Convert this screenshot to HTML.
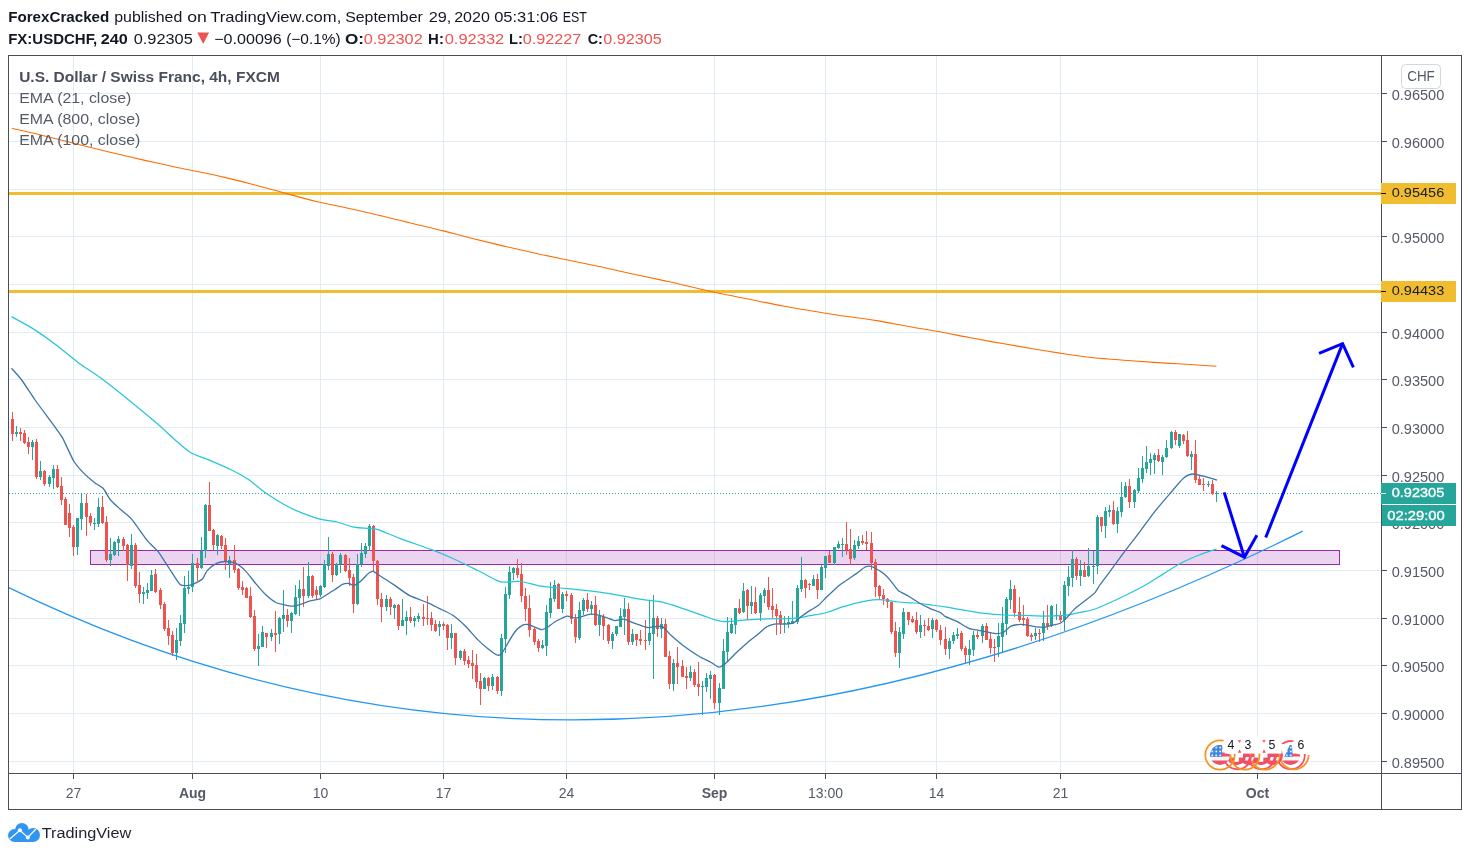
<!DOCTYPE html>
<html><head><meta charset="utf-8"><title>USDCHF</title>
<style>
html,body{margin:0;padding:0;background:#fff;}
body{width:1470px;height:856px;position:relative;overflow:hidden;font-family:"Liberation Sans",sans-serif;}
</style></head><body>
<svg width="1470" height="856" viewBox="0 0 1470 856" style="position:absolute;left:0;top:0;will-change:transform">
<defs><clipPath id="pane"><rect x="9" y="56" width="1372" height="717"/></clipPath></defs>
<path d="M73.5 56V773M192.5 56V773M320.5 56V773M443.5 56V773M566.5 56V773M714.5 56V773M825.5 56V773M936.5 56V773M1060.5 56V773M1257.5 56V773M9 93.5H1381M9 141.5H1381M9 189.5H1381M9 236.5H1381M9 284.5H1381M9 332.5H1381M9 379.5H1381M9 427.5H1381M9 475.5H1381M9 522.5H1381M9 570.5H1381M9 618.5H1381M9 665.5H1381M9 713.5H1381M9 761.5H1381" stroke="#e1ecf2" stroke-width="1" fill="none" shape-rendering="crispEdges"/>
<g clip-path="url(#pane)">
<rect x="9" y="192" width="1372" height="3" fill="#f0bd31" shape-rendering="crispEdges"/>
<rect x="9" y="290" width="1372" height="3" fill="#f0bd31" shape-rendering="crispEdges"/>
<rect x="90.5" y="550.5" width="1249" height="14" fill="#9c27b0" fill-opacity="0.2" stroke="#9c27b0" stroke-width="1"/>
<path d="M9 493.5H1381" stroke="#26a69a" stroke-width="1" stroke-dasharray="1 2" shape-rendering="crispEdges"/>
<path d="M16.5 426V437M32.5 440V460M40.5 461V480M49.5 475V487M53.5 465V489M77.5 518V555M81.5 493V530M94.5 518V530M98.5 498V527M110.5 538V566M114.5 541V556M118.5 536V556M131.5 534V569M143.5 587V604M147.5 583V599M151.5 570V591M176.5 628V660M180.5 615V646M184.5 576V633M188.5 571V594M192.5 554V592M201.5 537V569M205.5 504V558M217.5 534V555M229.5 556V578M258.5 634V666M262.5 626V647M271.5 629V641M279.5 617V644M283.5 590V632M291.5 612V633M295.5 585V615M299.5 580V616M308.5 562V598M320.5 585V597M324.5 560V588M328.5 537V570M336.5 563V576M340.5 553V573M357.5 554V605M361.5 543V567M365.5 543V558M369.5 524V551M386.5 595V611M394.5 604V619M402.5 599V626M406.5 611V635M414.5 616V627M418.5 613V622M439.5 621V636M451.5 624V649M460.5 650V660M484.5 677V689M492.5 674V690M501.5 634V696M505.5 587V653M509.5 566V599M513.5 567V580M542.5 640V649M546.5 605V656M550.5 582V618M554.5 580V602M562.5 592V613M579.5 602V640M583.5 598V615M591.5 601V615M599.5 610V636M612.5 632V649M616.5 626V636M620.5 608V627M624.5 598V635M632.5 629V645M649.5 601V645M653.5 595V679M661.5 618V638M673.5 659V691M690.5 666V681M702.5 681V715M706.5 673V692M710.5 671V699M719.5 683V715M723.5 639V689M727.5 617V662M731.5 618V634M735.5 608V634M743.5 583V613M751.5 586V614M760.5 593V621M764.5 588V603M784.5 616V633M788.5 616V628M792.5 601V624M797.5 585V624M801.5 557V592M813.5 575V586M821.5 565V590M825.5 556V578M834.5 547V565M838.5 541V549M842.5 538V557M854.5 540V560M858.5 536V549M899.5 627V668M903.5 608V639M920.5 615V638M932.5 618V638M949.5 638V659M953.5 632V644M957.5 628V639M969.5 640V665M973.5 631V656M982.5 624V643M998.5 623V657M1002.5 607V652M1006.5 597V635M1010.5 580V609M1035.5 628V640M1043.5 611V641M1051.5 605V627M1056.5 604V620M1064.5 581V631M1068.5 566V596M1072.5 550V587M1080.5 560V586M1088.5 548V577M1093.5 551V584M1097.5 515V574M1105.5 507V538M1109.5 505V517M1117.5 507V533M1121.5 482V517M1125.5 482V498M1134.5 489V508M1138.5 468V493M1142.5 456V483M1146.5 446V473M1150.5 453V475M1154.5 453V474M1162.5 455V475M1166.5 440V458M1171.5 431V449M1179.5 434V448M1191.5 451V470M1208.5 481V487M1216.5 491V502" stroke="#26a69a" stroke-width="1" fill="none" shape-rendering="crispEdges"/>
<path d="M12.5 412V441M20.5 428V441M24.5 430V444M28.5 437V454M36.5 439V479M44.5 470V486M57.5 465V488M61.5 477V505M65.5 497V525M69.5 504V537M73.5 525V556M86.5 494V536M90.5 513V526M102.5 496V524M106.5 516V562M123.5 537V551M127.5 544V581M135.5 543V588M139.5 572V603M155.5 569V593M160.5 588V609M164.5 602V631M168.5 620V645M172.5 631V656M197.5 558V581M209.5 482V531M213.5 529V550M221.5 535V549M225.5 538V570M234.5 545V573M238.5 568V590M242.5 581V595M246.5 587V598M250.5 587V618M254.5 610V651M266.5 633V648M275.5 611V652M287.5 609V627M303.5 567V607M312.5 575V598M316.5 586V600M332.5 552V582M345.5 554V572M349.5 558V586M353.5 574V613M373.5 525V571M377.5 560V605M381.5 593V622M390.5 597V615M398.5 604V630M410.5 607V623M423.5 604V626M427.5 596V625M431.5 612V631M435.5 620V632M443.5 622V630M447.5 624V650M455.5 633V665M464.5 649V665M468.5 656V668M472.5 650V679M476.5 654V688M480.5 673V705M488.5 677V691M497.5 676V694M517.5 559V578M521.5 563V602M525.5 588V621M529.5 595V637M534.5 627V645M538.5 639V652M558.5 583V609M566.5 591V601M571.5 593V624M575.5 614V643M587.5 593V612M595.5 596V626M603.5 614V640M608.5 624V644M628.5 603V645M636.5 634V646M640.5 630V645M645.5 620V650M657.5 616V637M665.5 619V657M669.5 651V689M677.5 647V684M682.5 660V677M686.5 667V689M694.5 669V687M698.5 662V696M714.5 674V709M739.5 599V614M747.5 589V620M755.5 587V614M768.5 577V610M772.5 588V618M776.5 604V635M780.5 611V634M805.5 579V598M809.5 583V590M817.5 574V599M829.5 551V563M846.5 522V555M850.5 529V565M862.5 535V545M866.5 531V550M871.5 532V570M875.5 559V597M879.5 585V599M883.5 589V605M887.5 598V608M891.5 602V634M895.5 622V657M908.5 612V625M912.5 616V623M916.5 612V634M924.5 620V636M928.5 618V631M936.5 619V632M940.5 625V645M945.5 627V655M961.5 631V651M965.5 646V663M977.5 631V639M986.5 623V640M990.5 633V654M994.5 639V662M1014.5 585V617M1019.5 597V622M1023.5 605V626M1027.5 617V637M1031.5 633V641M1039.5 629V642M1047.5 605V630M1060.5 611V622M1076.5 557V580M1084.5 562V577M1101.5 517V532M1113.5 501V525M1129.5 479V508M1158.5 449V462M1175.5 430V445M1183.5 434V444M1187.5 431V457M1195.5 440V483M1199.5 476V485M1203.5 478V491M1212.5 480V495" stroke="#ef5350" stroke-width="1" fill="none" shape-rendering="crispEdges"/>
<path d="M15 432h3V434h-3zM31 442h3V447h-3zM39 471h3V477h-3zM48 477h3V484h-3zM52 469h3V478h-3zM76 518h3V547h-3zM80 503h3V519h-3zM93 523h3V524h-3zM97 507h3V524h-3zM109 554h3V560h-3zM113 542h3V555h-3zM117 539h3V543h-3zM130 545h3V566h-3zM142 592h3V594h-3zM146 590h3V593h-3zM150 575h3V591h-3zM175 640h3V653h-3zM179 623h3V641h-3zM183 588h3V624h-3zM187 587h3V589h-3zM191 563h3V587h-3zM200 551h3V568h-3zM204 505h3V551h-3zM216 535h3V546h-3zM228 560h3V564h-3zM257 646h3V649h-3zM261 632h3V647h-3zM270 633h3V637h-3zM278 618h3V634h-3zM282 615h3V619h-3zM290 613h3V621h-3zM294 597h3V614h-3zM298 589h3V598h-3zM307 576h3V596h-3zM319 586h3V595h-3zM323 564h3V587h-3zM327 554h3V566h-3zM335 564h3V575h-3zM339 555h3V564h-3zM356 564h3V604h-3zM360 553h3V564h-3zM364 546h3V554h-3zM368 526h3V546h-3zM385 599h3V607h-3zM393 605h3V608h-3zM401 620h3V626h-3zM405 617h3V621h-3zM413 618h3V621h-3zM417 616h3V619h-3zM438 624h3V627h-3zM450 633h3V638h-3zM459 651h3V658h-3zM483 678h3V689h-3zM491 677h3V686h-3zM500 638h3V691h-3zM504 594h3V639h-3zM508 572h3V595h-3zM512 568h3V573h-3zM541 645h3V648h-3zM545 612h3V646h-3zM549 598h3V613h-3zM553 585h3V599h-3zM561 594h3V609h-3zM578 610h3V638h-3zM582 600h3V611h-3zM590 605h3V609h-3zM598 616h3V625h-3zM611 634h3V641h-3zM615 626h3V634h-3zM619 616h3V627h-3zM623 609h3V617h-3zM631 634h3V642h-3zM648 633h3V641h-3zM652 618h3V634h-3zM660 624h3V629h-3zM672 663h3V684h-3zM689 672h3V678h-3zM701 686h3V687h-3zM705 678h3V687h-3zM709 675h3V679h-3zM718 688h3V703h-3zM722 651h3V689h-3zM726 632h3V652h-3zM730 624h3V633h-3zM734 608h3V625h-3zM742 591h3V612h-3zM750 602h3V606h-3zM759 595h3V613h-3zM763 590h3V596h-3zM783 623h3V624h-3zM787 622h3V624h-3zM791 621h3V623h-3zM796 588h3V622h-3zM800 580h3V589h-3zM812 579h3V586h-3zM820 567h3V590h-3zM824 556h3V568h-3zM833 547h3V563h-3zM837 544h3V548h-3zM841 544h3V545h-3zM853 545h3V558h-3zM857 541h3V546h-3zM898 632h3V653h-3zM902 612h3V634h-3zM919 625h3V632h-3zM931 620h3V629h-3zM948 641h3V649h-3zM952 635h3V641h-3zM956 634h3V636h-3zM968 649h3V655h-3zM972 635h3V650h-3zM981 626h3V636h-3zM997 636h3V647h-3zM1001 623h3V637h-3zM1005 599h3V624h-3zM1009 589h3V600h-3zM1034 633h3V636h-3zM1042 623h3V633h-3zM1050 606h3V626h-3zM1055 615h3V616h-3zM1063 585h3V620h-3zM1067 577h3V586h-3zM1071 559h3V578h-3zM1079 570h3V576h-3zM1087 566h3V576h-3zM1092 566h3V567h-3zM1096 517h3V566h-3zM1104 511h3V526h-3zM1108 510h3V512h-3zM1116 511h3V524h-3zM1120 497h3V512h-3zM1124 486h3V497h-3zM1133 490h3V502h-3zM1137 478h3V491h-3zM1141 468h3V479h-3zM1145 462h3V469h-3zM1149 459h3V463h-3zM1153 455h3V460h-3zM1161 457h3V462h-3zM1165 448h3V457h-3zM1170 432h3V448h-3zM1178 434h3V446h-3zM1190 454h3V457h-3zM1207 484h3V485h-3zM1215 493h3V494h-3z" fill="#26a69a" shape-rendering="crispEdges"/>
<path d="M11 419h3V434h-3zM19 432h3V434h-3zM23 433h3V443h-3zM27 442h3V447h-3zM35 442h3V477h-3zM43 471h3V484h-3zM56 469h3V487h-3zM60 486h3V500h-3zM64 499h3V525h-3zM68 513h3V528h-3zM72 527h3V547h-3zM85 503h3V517h-3zM89 516h3V523h-3zM101 507h3V523h-3zM105 522h3V560h-3zM122 539h3V546h-3zM126 545h3V565h-3zM134 545h3V586h-3zM138 585h3V594h-3zM154 574h3V592h-3zM159 590h3V605h-3zM163 604h3V629h-3zM167 628h3V636h-3zM171 635h3V653h-3zM196 563h3V568h-3zM208 505h3V531h-3zM212 530h3V545h-3zM220 536h3V546h-3zM224 545h3V562h-3zM233 560h3V570h-3zM237 569h3V588h-3zM241 587h3V590h-3zM245 588h3V598h-3zM249 596h3V617h-3zM253 616h3V649h-3zM265 633h3V637h-3zM274 633h3V635h-3zM286 615h3V621h-3zM302 589h3V596h-3zM311 576h3V596h-3zM315 590h3V595h-3zM331 554h3V575h-3zM344 555h3V571h-3zM348 570h3V578h-3zM352 577h3V604h-3zM372 526h3V561h-3zM376 561h3V599h-3zM380 599h3V607h-3zM389 599h3V607h-3zM397 605h3V626h-3zM409 617h3V621h-3zM422 617h3V619h-3zM426 618h3V619h-3zM430 618h3V625h-3zM434 624h3V631h-3zM442 624h3V626h-3zM446 625h3V638h-3zM454 633h3V658h-3zM463 651h3V661h-3zM467 660h3V664h-3zM471 663h3V666h-3zM475 665h3V682h-3zM479 681h3V689h-3zM487 678h3V686h-3zM496 677h3V691h-3zM516 568h3V575h-3zM520 574h3V596h-3zM524 596h3V609h-3zM528 608h3V630h-3zM533 629h3V642h-3zM537 641h3V648h-3zM557 584h3V609h-3zM565 594h3V596h-3zM570 595h3V619h-3zM574 619h3V637h-3zM586 600h3V609h-3zM594 605h3V625h-3zM602 617h3V626h-3zM607 625h3V641h-3zM627 609h3V642h-3zM635 634h3V640h-3zM639 639h3V641h-3zM644 640h3V641h-3zM656 618h3V629h-3zM664 624h3V657h-3zM668 656h3V684h-3zM676 663h3V667h-3zM681 666h3V677h-3zM685 676h3V678h-3zM693 672h3V685h-3zM697 684h3V687h-3zM713 675h3V703h-3zM738 608h3V613h-3zM746 590h3V606h-3zM754 602h3V613h-3zM767 590h3V607h-3zM771 606h3V610h-3zM775 609h3V616h-3zM779 615h3V624h-3zM804 580h3V588h-3zM808 584h3V585h-3zM816 579h3V590h-3zM828 555h3V563h-3zM845 544h3V550h-3zM849 549h3V559h-3zM861 541h3V543h-3zM865 542h3V544h-3zM870 543h3V563h-3zM874 562h3V587h-3zM878 586h3V596h-3zM882 595h3V599h-3zM886 599h3V602h-3zM890 602h3V632h-3zM894 631h3V653h-3zM907 612h3V620h-3zM911 619h3V622h-3zM915 620h3V632h-3zM923 625h3V626h-3zM927 626h3V630h-3zM935 620h3V630h-3zM939 630h3V640h-3zM944 639h3V649h-3zM960 633h3V649h-3zM964 648h3V655h-3zM976 635h3V637h-3zM985 626h3V640h-3zM989 639h3V648h-3zM993 647h3V648h-3zM1013 589h3V613h-3zM1018 612h3V620h-3zM1022 618h3V620h-3zM1026 619h3V636h-3zM1030 635h3V637h-3zM1038 633h3V634h-3zM1046 623h3V626h-3zM1059 615h3V620h-3zM1075 559h3V576h-3zM1083 570h3V577h-3zM1100 517h3V526h-3zM1112 510h3V524h-3zM1128 486h3V502h-3zM1157 455h3V461h-3zM1174 432h3V440h-3zM1182 435h3V441h-3zM1186 440h3V456h-3zM1194 454h3V480h-3zM1198 479h3V485h-3zM1202 484h3V485h-3zM1211 484h3V494h-3z" fill="#ef5350" shape-rendering="crispEdges"/>
<path d="M11.9 128.2C16.5 129.3 29.4 132.2 39.7 134.7C50.0 137.2 62.1 140.3 73.7 143.2C85.3 146.1 97.4 149.2 109.1 152.0C120.8 154.8 132.2 157.5 143.8 160.1C155.4 162.7 170.4 166.0 178.5 167.7C186.6 169.4 184.6 168.9 192.3 170.5C200.0 172.1 213.5 174.8 224.7 177.4C235.9 180.0 249.7 183.7 259.4 186.2C269.0 188.7 273.0 189.9 282.6 192.5C292.2 195.1 307.6 199.4 317.2 201.7C326.8 204.0 330.4 204.4 340.0 206.5C349.6 208.6 363.1 211.5 374.7 214.2C386.3 216.9 397.9 220.0 409.4 222.8C420.8 225.6 433.4 228.4 443.4 230.9C453.4 233.4 459.8 235.4 469.5 237.8C479.2 240.2 490.7 243.0 501.9 245.6C513.1 248.2 525.9 251.1 536.6 253.5C547.4 255.9 556.8 257.8 566.4 259.8C576.0 261.8 583.9 263.3 594.4 265.5C604.9 267.7 617.5 270.7 629.1 273.2C640.7 275.7 655.3 278.8 663.8 280.6C672.3 282.4 671.5 282.2 680.0 284.2C688.5 286.1 702.9 289.8 714.5 292.3C726.1 294.8 737.8 297.0 749.4 299.3C761.0 301.6 771.4 303.9 784.1 306.2C796.8 308.5 813.9 311.3 825.5 313.2C837.1 315.1 845.0 316.1 853.5 317.3C862.0 318.5 867.0 319.0 876.6 320.6C886.2 322.2 901.3 325.2 911.3 327.0C921.3 328.8 926.8 329.4 936.5 331.2C946.2 332.9 958.0 335.4 969.3 337.5C980.5 339.6 992.4 341.8 1004.0 343.8C1015.6 345.8 1029.4 348.1 1038.8 349.7C1048.2 351.3 1052.8 352.0 1060.5 353.2C1068.2 354.4 1077.0 355.7 1085.0 356.7C1093.0 357.7 1100.5 358.3 1108.2 359.0C1115.9 359.7 1123.6 360.2 1131.3 360.8C1139.0 361.4 1146.7 361.9 1154.4 362.4C1162.1 362.9 1169.9 363.3 1177.6 363.8C1185.3 364.3 1194.2 364.8 1200.7 365.2C1207.2 365.6 1213.8 366.0 1216.4 366.2" stroke="#ff6d00" stroke-width="1.1" fill="none"/>
<path d="M11.5 316.6C15.1 318.7 26.0 324.3 33.3 328.9C40.6 333.5 48.1 338.8 55.5 344.4C62.9 349.9 69.9 356.4 77.7 362.2C85.5 368.0 93.6 372.7 102.1 379.0C110.6 385.3 119.8 392.7 128.7 399.9C137.6 407.1 147.2 415.1 155.4 422.1C163.6 429.1 171.5 436.9 177.6 442.1C183.7 447.3 186.6 450.2 191.8 453.2C197.0 456.1 202.0 457.0 208.7 459.8C215.3 462.6 225.0 466.7 231.7 470.0C238.4 473.3 243.2 475.9 248.9 479.8C254.6 483.7 259.6 488.8 266.1 493.3C272.6 497.8 281.6 503.3 288.1 506.8C294.6 510.3 300.0 512.2 305.3 514.2C310.6 516.2 314.7 517.8 320.0 519.1C325.3 520.4 331.6 520.7 337.2 522.0C342.8 523.3 348.3 526.0 353.7 527.1C359.1 528.2 365.6 528.0 369.6 528.4C373.7 528.8 372.9 528.0 378.0 529.7C383.1 531.4 391.4 535.2 400.4 538.6C409.4 542.0 423.2 546.5 432.2 549.9C441.2 553.3 447.1 555.8 454.6 559.2C462.1 562.6 470.2 566.7 477.4 570.3C484.6 573.9 493.2 578.9 497.9 580.9C502.6 582.9 501.6 582.0 505.4 582.1C509.1 582.2 514.5 580.8 520.4 581.5C526.3 582.2 534.4 585.1 540.9 586.2C547.4 587.3 553.1 587.4 559.6 588.0C566.1 588.6 573.2 589.1 579.9 589.8C586.6 590.5 592.4 591.2 599.7 592.2C607.0 593.2 616.3 594.9 623.6 596.1C630.9 597.4 636.8 598.7 643.4 599.7C650.0 600.7 656.7 600.8 663.3 602.3C669.9 603.8 676.5 606.5 683.1 608.7C689.7 610.9 697.6 613.7 703.0 615.6C708.4 617.5 711.7 618.9 715.5 619.9C719.3 620.9 720.7 621.6 726.0 621.6C731.3 621.6 740.1 620.4 747.1 619.9C754.1 619.4 760.4 619.0 768.1 618.8C775.8 618.5 786.3 618.9 793.3 618.4C800.3 617.9 804.5 616.7 810.1 615.7C815.7 614.7 821.7 613.9 826.9 612.5C832.1 611.1 836.2 608.9 841.5 607.2C846.8 605.6 853.1 603.8 858.4 602.6C863.7 601.4 868.9 600.4 873.1 599.9C877.3 599.4 879.4 599.5 883.6 599.9C887.8 600.2 893.0 601.5 898.3 602.0C903.5 602.5 909.5 602.5 915.1 603.0C920.7 603.5 926.7 604.4 932.0 605.1C937.3 605.8 941.2 606.3 946.7 607.2C952.2 608.1 958.6 609.4 964.9 610.4C971.2 611.4 978.1 612.6 984.7 613.4C991.3 614.2 998.0 614.7 1004.6 615.0C1011.2 615.3 1017.8 615.2 1024.4 615.4C1031.0 615.6 1037.7 616.0 1044.3 616.0C1050.9 616.0 1058.2 616.0 1064.2 615.4C1070.2 614.8 1075.0 613.5 1080.1 612.4C1085.2 611.3 1088.3 611.4 1095.0 609.0C1101.7 606.6 1111.6 602.0 1120.0 598.0C1128.4 594.0 1138.3 589.0 1145.5 585.0C1152.7 581.0 1157.3 577.6 1163.3 573.9C1169.2 570.2 1175.2 566.1 1181.2 563.0C1187.2 559.9 1193.2 557.3 1199.1 555.0C1205.0 552.7 1213.7 550.0 1216.6 549.0" stroke="#26c6da" stroke-width="1.25" fill="none"/>
<path d="M11.5 368.3C12.7 369.6 19.4 377.0 22.0 380.5C24.6 384.0 31.6 395.0 35.1 400.0C38.6 405.0 51.1 421.7 54.1 425.9C57.1 430.1 60.3 434.0 62.5 437.9C64.7 441.8 71.4 457.1 73.7 461.0C76.0 464.9 81.2 470.5 83.5 472.9C85.8 475.3 92.5 481.0 94.7 482.7C96.9 484.4 101.4 486.5 103.1 488.3C104.8 490.1 108.2 497.2 110.1 499.5C112.0 501.8 117.7 506.9 120.0 509.0C122.3 511.1 128.4 515.4 131.4 518.9C134.4 522.4 144.4 537.1 147.3 540.7C150.2 544.3 155.8 548.5 158.2 551.6C160.6 554.7 166.8 564.9 169.2 568.5C171.6 572.1 177.9 582.5 180.1 584.4C182.3 586.3 187.1 585.6 189.0 585.4C190.9 585.2 195.5 583.2 197.0 582.4C198.5 581.6 201.8 579.8 202.9 578.5C204.0 577.2 205.6 572.3 207.2 570.6C208.8 568.9 215.0 564.2 217.0 563.2C219.0 562.2 223.6 561.5 225.6 561.5C227.6 561.5 233.2 562.2 235.4 563.2C237.6 564.2 242.9 568.3 245.2 570.6C247.5 572.9 253.9 581.4 256.2 584.1C258.5 586.8 263.9 593.1 266.1 595.1C268.3 597.1 273.2 601.3 275.9 602.5C278.6 603.7 287.9 606.0 290.6 606.2C293.3 606.4 298.2 605.0 300.4 604.4C302.6 603.8 308.0 601.4 310.2 600.8C312.4 600.2 317.8 599.7 320.0 598.8C322.2 597.9 328.2 593.7 329.8 592.7C331.4 591.7 333.6 590.4 335.0 589.5C336.4 588.6 341.0 585.1 342.5 584.4C344.0 583.7 347.8 583.4 349.0 583.5C350.2 583.6 352.4 585.7 353.7 585.4C355.0 585.1 359.6 582.0 361.2 580.7C362.8 579.4 367.3 574.2 368.6 573.2C369.9 572.2 372.1 571.1 373.3 571.4C374.5 571.7 377.5 574.2 379.9 575.7C382.3 577.2 391.5 583.2 394.8 585.4C398.1 587.6 406.1 593.8 409.8 595.7C413.5 597.6 425.2 601.7 428.5 603.1C431.8 604.5 437.0 607.4 439.7 608.7C442.4 610.0 449.9 613.3 452.8 615.3C455.7 617.3 463.1 623.8 465.8 626.5C468.5 629.2 474.9 636.9 477.4 639.4C479.9 641.9 486.4 647.6 488.6 649.3C490.8 651.0 495.6 654.5 497.0 655.0C498.4 655.5 500.6 654.7 501.7 653.5C502.8 652.3 505.9 646.5 507.3 644.1C508.7 641.7 513.2 634.1 514.8 632.0C516.4 629.9 520.8 626.2 522.2 625.4C523.6 624.6 526.5 624.3 527.9 624.5C529.3 624.7 533.8 626.7 535.3 627.3C536.8 627.9 540.6 629.7 541.9 629.7C543.2 629.7 546.0 628.2 547.5 627.3C549.0 626.4 553.7 622.5 555.9 621.3C558.1 620.1 564.9 616.5 567.1 616.1C569.3 615.7 573.3 618.2 575.9 618.0C578.5 617.8 587.7 614.4 590.8 614.2C593.9 614.0 601.1 615.9 603.7 616.6C606.3 617.3 612.4 620.3 614.6 620.6C616.8 620.9 621.3 618.9 623.6 619.2C625.9 619.5 632.9 622.7 635.5 623.6C638.1 624.5 645.0 627.2 647.4 627.5C649.8 627.8 655.6 626.5 657.3 626.5C659.0 626.5 661.8 626.1 663.3 627.1C664.8 628.1 669.0 633.5 671.2 635.5C673.4 637.5 680.0 643.1 683.1 645.4C686.2 647.7 695.9 654.4 699.0 656.3C702.1 658.2 708.7 661.1 710.9 662.3C713.1 663.5 717.2 667.1 718.9 667.2C720.6 667.3 724.1 664.6 726.0 663.0C727.9 661.4 734.2 654.7 736.5 652.5C738.8 650.3 744.8 645.0 747.1 643.0C749.4 641.0 755.5 636.3 757.6 634.6C759.7 632.9 764.2 628.5 766.0 627.3C767.8 626.1 772.3 624.5 774.4 624.1C776.5 623.7 782.8 624.2 784.9 624.1C787.0 624.0 791.7 623.8 793.3 623.1C794.9 622.4 797.8 619.2 799.6 617.8C801.4 616.4 808.0 611.8 810.1 610.4C812.2 609.0 816.7 606.7 818.5 605.2C820.3 603.7 824.6 599.0 826.9 596.8C829.2 594.6 837.1 587.1 839.4 585.2C841.7 583.3 845.9 580.8 847.8 579.5C849.7 578.2 854.4 574.9 856.3 573.6C858.2 572.3 863.2 568.1 864.7 567.3C866.2 566.5 868.7 566.1 869.9 566.2C871.1 566.3 873.7 567.5 875.2 568.3C876.7 569.1 882.0 572.3 883.6 573.6C885.2 574.9 888.3 578.1 889.9 579.9C891.5 581.7 896.2 588.6 898.3 590.4C900.4 592.2 906.5 594.9 908.8 596.3C911.1 597.7 917.0 601.7 919.3 603.0C921.6 604.3 927.5 607.3 929.8 608.3C932.1 609.3 938.7 611.6 940.4 612.5C942.1 613.4 943.2 615.4 945.0 616.4C946.8 617.4 954.3 620.1 956.9 621.4C959.5 622.7 966.4 627.3 968.8 628.3C971.2 629.3 976.6 629.9 978.8 630.3C981.0 630.7 986.7 631.9 988.7 632.3C990.7 632.7 995.0 633.7 996.6 633.7C998.2 633.7 1002.1 633.1 1003.6 632.3C1005.1 631.5 1008.6 627.2 1010.5 626.3C1012.4 625.4 1018.5 624.4 1020.5 624.3C1022.5 624.2 1026.7 625.0 1028.4 625.3C1030.1 625.6 1034.7 626.7 1036.4 626.9C1038.1 627.1 1042.6 627.5 1044.3 627.3C1046.0 627.1 1050.5 625.7 1052.2 625.3C1053.9 624.9 1058.7 624.1 1060.2 623.3C1061.7 622.5 1064.7 619.9 1066.2 618.4C1067.7 616.9 1072.1 611.3 1074.1 609.4C1076.1 607.5 1081.7 603.3 1084.0 601.5C1086.3 599.7 1093.3 594.4 1095.0 592.6C1096.7 590.8 1098.2 587.3 1099.8 585.0C1101.4 582.7 1106.9 575.7 1109.7 571.9C1112.5 568.1 1122.3 554.5 1125.6 550.1C1128.9 545.7 1136.4 536.2 1139.5 532.2C1142.6 528.2 1150.1 517.5 1153.4 513.3C1156.7 509.1 1166.0 498.2 1169.3 494.4C1172.6 490.6 1180.7 480.8 1183.2 478.6C1185.7 476.4 1189.7 474.2 1192.1 474.0C1194.5 473.8 1202.4 475.9 1205.1 476.6C1207.8 477.3 1215.7 479.7 1217.0 480.1" stroke="#3d75a8" stroke-width="1.3" fill="none" stroke-linejoin="round"/>
<path d="M8.50 587.53Q604.47 878.07 1302.70 531.17" stroke="#2196f3" stroke-width="1.25" fill="none"/>
<g stroke="#0000ff" stroke-width="3" fill="none" stroke-linecap="butt">
<path d="M1224.2 492.4L1244.4 557.2"/><path d="M1221.5 545.7L1244.4 557.2L1256.9 535.2" stroke-linejoin="miter"/>
<path d="M1265.7 537.5L1342.6 343.6"/><path d="M1319 353.4L1342.6 343.6L1353.4 367.4" stroke-linejoin="miter"/>
</g>
</g>
<path d="M8.5 55V810M1461.5 55V810M8 55.5H1462M8 809.5H1462M1381.5 55V810M8 773.5H1462M73.5 774V779M192.5 774V779M320.5 774V779M443.5 774V779M566.5 774V779M714.5 774V779M825.5 774V779M936.5 774V779M1060.5 774V779M1257.5 774V779M1382 93.5h5M1382 141.5h5M1382 189.5h5M1382 236.5h5M1382 284.5h5M1382 332.5h5M1382 379.5h5M1382 427.5h5M1382 475.5h5M1382 522.5h5M1382 570.5h5M1382 618.5h5M1382 665.5h5M1382 713.5h5M1382 761.5h5" stroke="#4a4e5c" stroke-width="1" fill="none" shape-rendering="crispEdges"/>
<text x="1391.7" y="99.7" font-family="Liberation Sans, sans-serif" font-size="14" fill="#555a66" textLength="52.6" lengthAdjust="spacingAndGlyphs">0.96500</text>
<text x="1391.7" y="147.7" font-family="Liberation Sans, sans-serif" font-size="14" fill="#555a66" textLength="52.6" lengthAdjust="spacingAndGlyphs">0.96000</text>
<text x="1391.7" y="195.7" font-family="Liberation Sans, sans-serif" font-size="14" fill="#555a66" textLength="52.6" lengthAdjust="spacingAndGlyphs">0.95500</text>
<text x="1391.7" y="242.7" font-family="Liberation Sans, sans-serif" font-size="14" fill="#555a66" textLength="52.6" lengthAdjust="spacingAndGlyphs">0.95000</text>
<text x="1391.7" y="290.7" font-family="Liberation Sans, sans-serif" font-size="14" fill="#555a66" textLength="52.6" lengthAdjust="spacingAndGlyphs">0.94500</text>
<text x="1391.7" y="338.7" font-family="Liberation Sans, sans-serif" font-size="14" fill="#555a66" textLength="52.6" lengthAdjust="spacingAndGlyphs">0.94000</text>
<text x="1391.7" y="385.7" font-family="Liberation Sans, sans-serif" font-size="14" fill="#555a66" textLength="52.6" lengthAdjust="spacingAndGlyphs">0.93500</text>
<text x="1391.7" y="433.7" font-family="Liberation Sans, sans-serif" font-size="14" fill="#555a66" textLength="52.6" lengthAdjust="spacingAndGlyphs">0.93000</text>
<text x="1391.7" y="481.7" font-family="Liberation Sans, sans-serif" font-size="14" fill="#555a66" textLength="52.6" lengthAdjust="spacingAndGlyphs">0.92500</text>
<text x="1391.7" y="528.7" font-family="Liberation Sans, sans-serif" font-size="14" fill="#555a66" textLength="52.6" lengthAdjust="spacingAndGlyphs">0.92000</text>
<text x="1391.7" y="576.7" font-family="Liberation Sans, sans-serif" font-size="14" fill="#555a66" textLength="52.6" lengthAdjust="spacingAndGlyphs">0.91500</text>
<text x="1391.7" y="624.7" font-family="Liberation Sans, sans-serif" font-size="14" fill="#555a66" textLength="52.6" lengthAdjust="spacingAndGlyphs">0.91000</text>
<text x="1391.7" y="671.7" font-family="Liberation Sans, sans-serif" font-size="14" fill="#555a66" textLength="52.6" lengthAdjust="spacingAndGlyphs">0.90500</text>
<text x="1391.7" y="719.7" font-family="Liberation Sans, sans-serif" font-size="14" fill="#555a66" textLength="52.6" lengthAdjust="spacingAndGlyphs">0.90000</text>
<text x="1391.7" y="767.7" font-family="Liberation Sans, sans-serif" font-size="14" fill="#555a66" textLength="52.6" lengthAdjust="spacingAndGlyphs">0.89500</text>
<text x="73.5" y="798" font-family="Liberation Sans, sans-serif" font-size="14" fill="#555a66" text-anchor="middle">27</text>
<text x="192.5" y="798" font-family="Liberation Sans, sans-serif" font-size="14" fill="#555a66" text-anchor="middle" font-weight="bold">Aug</text>
<text x="320.5" y="798" font-family="Liberation Sans, sans-serif" font-size="14" fill="#555a66" text-anchor="middle">10</text>
<text x="443.5" y="798" font-family="Liberation Sans, sans-serif" font-size="14" fill="#555a66" text-anchor="middle">17</text>
<text x="566.5" y="798" font-family="Liberation Sans, sans-serif" font-size="14" fill="#555a66" text-anchor="middle">24</text>
<text x="714.5" y="798" font-family="Liberation Sans, sans-serif" font-size="14" fill="#555a66" text-anchor="middle" font-weight="bold">Sep</text>
<text x="825.5" y="798" font-family="Liberation Sans, sans-serif" font-size="14" fill="#555a66" text-anchor="middle">13:00</text>
<text x="936.5" y="798" font-family="Liberation Sans, sans-serif" font-size="14" fill="#555a66" text-anchor="middle">14</text>
<text x="1060.5" y="798" font-family="Liberation Sans, sans-serif" font-size="14" fill="#555a66" text-anchor="middle">21</text>
<text x="1257.5" y="798" font-family="Liberation Sans, sans-serif" font-size="14" fill="#555a66" text-anchor="middle" font-weight="bold">Oct</text>
<rect x="1381" y="183" width="75" height="21" fill="#f0bd31"/>
<path d="M1381 193.5h5" stroke="#111" stroke-width="1" shape-rendering="crispEdges"/>
<text x="1391.7" y="196.9" font-family="Liberation Sans, sans-serif" font-size="13.6" fill="#1c1c1c" textLength="52.6" lengthAdjust="spacingAndGlyphs">0.95456</text>
<rect x="1381" y="281" width="75" height="21" fill="#f0bd31"/>
<path d="M1381 291.5h5" stroke="#111" stroke-width="1" shape-rendering="crispEdges"/>
<text x="1391.7" y="294.9" font-family="Liberation Sans, sans-serif" font-size="13.6" fill="#1c1c1c" textLength="52.6" lengthAdjust="spacingAndGlyphs">0.94433</text>
<rect x="1381" y="483" width="75" height="21" fill="#26a69a"/>
<rect x="1382" y="505" width="74" height="21" fill="#26a69a"/>
<path d="M1381 493.5h5" stroke="#fff" stroke-width="1" shape-rendering="crispEdges"/>
<text x="1391.7" y="496.8" font-family="Liberation Sans, sans-serif" font-size="13.6" fill="#fff" stroke="#fff" stroke-width="0.35" textLength="52.6" lengthAdjust="spacingAndGlyphs">0.92305</text>
<text x="1387.2" y="520.1" font-family="Liberation Sans, sans-serif" font-size="13.6" fill="#fff" stroke="#fff" stroke-width="0.35" textLength="57.6" lengthAdjust="spacingAndGlyphs">02:29:00</text>
<rect x="1401.5" y="64.5" width="39" height="24" rx="4" fill="#fff" stroke="#d4d6dc"/>
<text x="1407.2" y="80.8" font-family="Liberation Sans, sans-serif" font-size="14" fill="#555a66" textLength="27.6" lengthAdjust="spacingAndGlyphs">CHF</text>
<text x="19.2" y="81.5" font-family="Liberation Sans, sans-serif" font-size="14" font-weight="bold" fill="#4a4e5a" textLength="260.6" lengthAdjust="spacingAndGlyphs">U.S. Dollar / Swiss Franc, 4h, FXCM</text>
<text x="19.2" y="103" font-family="Liberation Sans, sans-serif" font-size="14" fill="#555a66" textLength="112.1" lengthAdjust="spacingAndGlyphs">EMA (21, close)</text>
<text x="19.2" y="124" font-family="Liberation Sans, sans-serif" font-size="14" fill="#555a66" textLength="121.1" lengthAdjust="spacingAndGlyphs">EMA (800, close)</text>
<text x="19.2" y="145" font-family="Liberation Sans, sans-serif" font-size="14" fill="#555a66" textLength="121.1" lengthAdjust="spacingAndGlyphs">EMA (100, close)</text>
<clipPath id="fc4"><circle cx="1290.5" cy="755" r="10"/></clipPath><g clip-path="url(#fc4)"><rect x="1280.5" y="745" width="20" height="20" fill="#f4f6f8"/><rect x="1280.5" y="745" width="20" height="4" fill="#ec5265"/><rect x="1280.5" y="752.5" width="20" height="4" fill="#ec5265"/><rect x="1280.5" y="760.5" width="20" height="5" fill="#ec5265"/><rect x="1280.5" y="745" width="12" height="11.7" fill="#3f86dc"/><rect x="1281.9" y="746.7" width="1.7" height="1.7" fill="#eef3fb"/><rect x="1285.9" y="746.7" width="1.7" height="1.7" fill="#eef3fb"/><rect x="1289.9" y="746.7" width="1.7" height="1.7" fill="#eef3fb"/><rect x="1281.9" y="750.6" width="1.7" height="1.7" fill="#eef3fb"/><rect x="1285.9" y="750.6" width="1.7" height="1.7" fill="#eef3fb"/><rect x="1289.9" y="750.6" width="1.7" height="1.7" fill="#eef3fb"/><rect x="1281.9" y="754.5" width="1.7" height="1.7" fill="#eef3fb"/><rect x="1285.9" y="754.5" width="1.7" height="1.7" fill="#eef3fb"/><rect x="1289.9" y="754.5" width="1.7" height="1.7" fill="#eef3fb"/></g><circle cx="1290.8" cy="755.2" r="14" fill="none" stroke="#ff4a68" stroke-width="1.8"/><path d="M1279.8 755A14.4 14.4 0 0 0 1308.6000000000001 755" fill="none" stroke="#f7941d" stroke-width="1.8"/><path d="M1276 744H1290.2L1284 757.4H1276z" fill="#fff"/><circle cx="1273" cy="755.3" r="10" fill="#ec5265"/><circle cx="1249" cy="755.3" r="10" fill="#ec5265"/><clipPath id="fc3"><circle cx="1261" cy="755.3" r="10"/></clipPath><g clip-path="url(#fc3)"><rect x="1251" y="745.3" width="20" height="20" fill="#ec5265"/><rect x="1258.7" y="748.8" width="4.6" height="13" fill="#fff"/><rect x="1254.5" y="753.0" width="13" height="4.6" fill="#fff"/></g><circle cx="1261.5" cy="755.3" r="14" fill="none" stroke="#ff4a68" stroke-width="1.8"/><circle cx="1265.1" cy="755.1" r="14.5" fill="none" stroke="#f7941d" stroke-width="1.8"/><clipPath id="fc2"><circle cx="1236.5" cy="755.3" r="10"/></clipPath><g clip-path="url(#fc2)"><rect x="1226.5" y="745.3" width="20" height="20" fill="#ec5265"/><rect x="1234.2" y="748.8" width="4.6" height="13" fill="#fff"/><rect x="1230.0" y="753.0" width="13" height="4.6" fill="#fff"/></g><circle cx="1237.5" cy="755.3" r="14" fill="none" stroke="#ff4a68" stroke-width="1.8"/><circle cx="1245" cy="755.2" r="14.5" fill="none" stroke="#f7941d" stroke-width="1.8"/><clipPath id="fc1"><circle cx="1220" cy="755" r="10"/></clipPath><g clip-path="url(#fc1)"><rect x="1210" y="745" width="20" height="20" fill="#f4f6f8"/><rect x="1210" y="745" width="20" height="4" fill="#ec5265"/><rect x="1210" y="752.5" width="20" height="4" fill="#ec5265"/><rect x="1210" y="760.5" width="20" height="5" fill="#ec5265"/><rect x="1210" y="745" width="12" height="11.7" fill="#3f86dc"/><rect x="1211.4" y="746.7" width="1.7" height="1.7" fill="#eef3fb"/><rect x="1215.4" y="746.7" width="1.7" height="1.7" fill="#eef3fb"/><rect x="1219.4" y="746.7" width="1.7" height="1.7" fill="#eef3fb"/><rect x="1211.4" y="750.6" width="1.7" height="1.7" fill="#eef3fb"/><rect x="1215.4" y="750.6" width="1.7" height="1.7" fill="#eef3fb"/><rect x="1219.4" y="750.6" width="1.7" height="1.7" fill="#eef3fb"/><rect x="1211.4" y="754.5" width="1.7" height="1.7" fill="#eef3fb"/><rect x="1215.4" y="754.5" width="1.7" height="1.7" fill="#eef3fb"/><rect x="1219.4" y="754.5" width="1.7" height="1.7" fill="#eef3fb"/></g><circle cx="1220" cy="755" r="14.7" fill="none" stroke="#f7941d" stroke-width="1.8"/><path d="M1245.9 757H1249L1248 760.4H1244.9z" fill="#f1f7fa"/><path d="M1252 757H1254L1253 760.4H1251z" fill="#f1f7fa"/><path d="M1270.7 757H1273.9L1272.9 760.4H1269.7z" fill="#f1f7fa"/><path d="M1276.8 757H1279L1278 760.4H1275.8z" fill="#f1f7fa"/><rect x="1224.6" y="736.5" width="57" height="17.1" fill="#fff"/><rect x="1292.6" y="736.5" width="19" height="17.1" fill="#fff"/><circle cx="1231" cy="745.5" r="9" fill="#fff"/><circle cx="1301" cy="745.5" r="9.2" fill="#fff"/><path d="M1237.7 740.2H1241.3L1239.5 742.8z" fill="#ff4a68"/><path d="M1239.5 749.2L1241.4 752.8H1237.9z" fill="#ec5265"/><path d="M1262.2 740.2H1265.8L1264 742.8z" fill="#ff4a68"/><path d="M1264 749.2L1265.9 752.8H1262.4z" fill="#ec5265"/><path d="M1287.2 740.4H1294V741.6H1288.2z" fill="#ff4a68"/><text x="1231" y="749.4" font-family="Liberation Sans, sans-serif" font-size="12.3" fill="#131722" text-anchor="middle">4</text><text x="1247.8" y="749.4" font-family="Liberation Sans, sans-serif" font-size="12.3" fill="#131722" text-anchor="middle">3</text><text x="1272" y="749.4" font-family="Liberation Sans, sans-serif" font-size="12.3" fill="#131722" text-anchor="middle">5</text><text x="1301" y="749.4" font-family="Liberation Sans, sans-serif" font-size="12.3" fill="#131722" text-anchor="middle">6</text>
<text x="8.20" y="22" font-family="Liberation Sans, sans-serif" font-size="14.5" fill="#131722" font-weight="bold" textLength="101.11" lengthAdjust="spacingAndGlyphs">ForexCracked</text><text x="114.20" y="22" font-family="Liberation Sans, sans-serif" font-size="14.5" fill="#131722" textLength="68.11" lengthAdjust="spacingAndGlyphs">published</text><text x="187.17" y="22" font-family="Liberation Sans, sans-serif" font-size="14.5" fill="#131722" textLength="19.64" lengthAdjust="spacingAndGlyphs">on</text><text x="210.20" y="22" font-family="Liberation Sans, sans-serif" font-size="14.5" fill="#131722" textLength="131.10" lengthAdjust="spacingAndGlyphs">TradingView.com,</text><text x="345.21" y="22" font-family="Liberation Sans, sans-serif" font-size="14.5" fill="#131722" textLength="77.59" lengthAdjust="spacingAndGlyphs">September</text><text x="428.68" y="22" font-family="Liberation Sans, sans-serif" font-size="14.5" fill="#131722" textLength="22.64" lengthAdjust="spacingAndGlyphs">29,</text><text x="454.19" y="22" font-family="Liberation Sans, sans-serif" font-size="14.5" fill="#131722" textLength="35.63" lengthAdjust="spacingAndGlyphs">2020</text><text x="494.20" y="22" font-family="Liberation Sans, sans-serif" font-size="14.5" fill="#131722" textLength="64.09" lengthAdjust="spacingAndGlyphs">05:31:06</text><text x="562.72" y="22" font-family="Liberation Sans, sans-serif" font-size="14.5" fill="#131722" textLength="24.08" lengthAdjust="spacingAndGlyphs">EST</text><text x="8.20" y="43.5" font-family="Liberation Sans, sans-serif" font-size="14.5" fill="#131722" font-weight="bold" textLength="89.11" lengthAdjust="spacingAndGlyphs">FX:USDCHF,</text><text x="100.69" y="43.5" font-family="Liberation Sans, sans-serif" font-size="14.5" fill="#131722" font-weight="bold" textLength="27.10" lengthAdjust="spacingAndGlyphs">240</text><text x="133.68" y="43.5" font-family="Liberation Sans, sans-serif" font-size="14.5" fill="#131722" textLength="59.13" lengthAdjust="spacingAndGlyphs">0.92305</text><path d="M197.3 32.5H209.1L203.2 43.9z" fill="#ef5350"/><text x="214.20" y="43.5" font-family="Liberation Sans, sans-serif" font-size="14.5" fill="#131722" textLength="67.60" lengthAdjust="spacingAndGlyphs">−0.00096</text><text x="286.20" y="43.5" font-family="Liberation Sans, sans-serif" font-size="14.5" fill="#131722" textLength="54.60" lengthAdjust="spacingAndGlyphs">(−0.1%)</text><text x="345.07" y="43.5" font-family="Liberation Sans, sans-serif" font-size="14.5" fill="#131722" font-weight="bold" textLength="18.98" lengthAdjust="spacingAndGlyphs">O:</text><text x="363.70" y="43.5" font-family="Liberation Sans, sans-serif" font-size="14.5" fill="#ef5350" textLength="59.09" lengthAdjust="spacingAndGlyphs">0.92302</text><text x="428.14" y="43.5" font-family="Liberation Sans, sans-serif" font-size="14.5" fill="#131722" font-weight="bold" textLength="15.76" lengthAdjust="spacingAndGlyphs">H:</text><text x="444.69" y="43.5" font-family="Liberation Sans, sans-serif" font-size="14.5" fill="#ef5350" textLength="59.61" lengthAdjust="spacingAndGlyphs">0.92332</text><text x="509.08" y="43.5" font-family="Liberation Sans, sans-serif" font-size="14.5" fill="#131722" font-weight="bold" textLength="13.86" lengthAdjust="spacingAndGlyphs">L:</text><text x="522.70" y="43.5" font-family="Liberation Sans, sans-serif" font-size="14.5" fill="#ef5350" textLength="58.60" lengthAdjust="spacingAndGlyphs">0.92227</text><text x="587.63" y="43.5" font-family="Liberation Sans, sans-serif" font-size="14.5" fill="#131722" font-weight="bold" textLength="15.22" lengthAdjust="spacingAndGlyphs">C:</text><text x="603.19" y="43.5" font-family="Liberation Sans, sans-serif" font-size="14.5" fill="#ef5350" textLength="58.61" lengthAdjust="spacingAndGlyphs">0.92305</text>
<g><circle cx="14.5" cy="835.5" r="6.5" fill="#3196f0"/><circle cx="21.9" cy="829.8" r="6.8" fill="#3196f0"/><circle cx="33" cy="835" r="7" fill="#3196f0"/><rect x="14.5" y="834" width="18.5" height="8" fill="#3196f0"/><path d="M9.7 839L19.9 830.3L27.8 837.4L35.7 829.3" stroke="#fff" stroke-width="1.3" fill="none"/><circle cx="19.9" cy="830.3" r="2" fill="#fff"/><circle cx="27.8" cy="837.4" r="2" fill="#fff"/></g><text x="41.7" y="837.8" font-family="Liberation Sans, sans-serif" font-size="15.2" fill="#1e222d" textLength="89.6" lengthAdjust="spacingAndGlyphs">TradingView</text>
</svg>
</body></html>
